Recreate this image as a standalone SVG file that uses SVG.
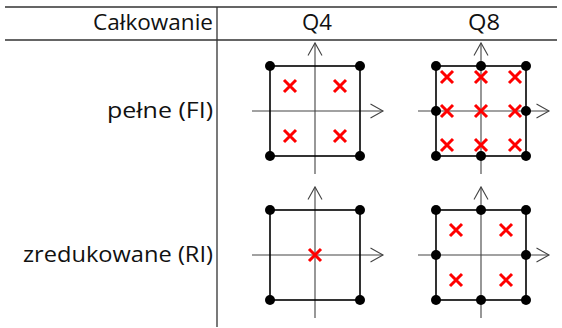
<svg xmlns="http://www.w3.org/2000/svg" width="562" height="328" viewBox="0 0 562 328">
<defs>
<style>
.rule{stroke:#333;stroke-width:1.3;fill:none}
.axis{stroke:#444;stroke-width:1.1;fill:none}
.edge{stroke:#000;stroke-width:1.6;fill:none}
.dot{fill:#000}
.gp{stroke:#ff0000;stroke-width:3;fill:none}
text{font-family:"Open Sans","DejaVu Sans",sans-serif;font-size:22.5px;fill:#111}
</style>
<g id="xh"><path class="gp" d="M-6,-6L6,6M-6,6L6,-6"/></g>
<g id="axes">
<path class="axis" d="M0,63V-68M-63,0H68"/>
<path class="axis" d="M-7,-55.5L0,-68L7,-55.5M55.5,-7L68,0L55.5,7"/>
</g>
</defs>
<g id="table">
<path class="rule" d="M5,7H557M5,40H557M217,7V327"/>
<text x="93" y="30" textLength="120" lengthAdjust="spacingAndGlyphs">Całkowanie</text>
<text x="302" y="30" textLength="30" lengthAdjust="spacingAndGlyphs">Q4</text>
<text x="468" y="30" textLength="32" lengthAdjust="spacingAndGlyphs">Q8</text>
<text x="107" y="118" textLength="106" lengthAdjust="spacingAndGlyphs">pełne (FI)</text>
<text x="23" y="262" textLength="190" lengthAdjust="spacingAndGlyphs">zredukowane (RI)</text>
</g>
<g id="q4-fi" transform="translate(315,111)">
<use href="#axes"/>
<rect class="edge" x="-45" y="-45" width="90" height="90"/>
<circle class="dot" cx="-45" cy="-45" r="5"/><circle class="dot" cx="45" cy="-45" r="5"/>
<circle class="dot" cx="-45" cy="45" r="5"/><circle class="dot" cx="45" cy="45" r="5"/>
<use href="#xh" x="-25" y="-25"/><use href="#xh" x="25" y="-25"/>
<use href="#xh" x="-25" y="25"/><use href="#xh" x="25" y="25"/>
</g>
<g id="q8-fi" transform="translate(481,111)">
<use href="#axes"/>
<rect class="edge" x="-45" y="-45" width="90" height="90"/>
<circle class="dot" cx="-45" cy="-45" r="5"/><circle class="dot" cx="0" cy="-45" r="5"/><circle class="dot" cx="45" cy="-45" r="5"/>
<circle class="dot" cx="-45" cy="0" r="5"/><circle class="dot" cx="45" cy="0" r="5"/>
<circle class="dot" cx="-45" cy="45" r="5"/><circle class="dot" cx="0" cy="45" r="5"/><circle class="dot" cx="45" cy="45" r="5"/>
<use href="#xh" x="-34" y="-34"/><use href="#xh" x="0" y="-34"/><use href="#xh" x="34" y="-34"/>
<use href="#xh" x="-34" y="0"/><use href="#xh" x="0" y="0"/><use href="#xh" x="34" y="0"/>
<use href="#xh" x="-34" y="34"/><use href="#xh" x="0" y="34"/><use href="#xh" x="34" y="34"/>
</g>
<g id="q4-ri" transform="translate(315,255)">
<use href="#axes"/>
<rect class="edge" x="-45" y="-45" width="90" height="90"/>
<circle class="dot" cx="-45" cy="-45" r="5"/><circle class="dot" cx="45" cy="-45" r="5"/>
<circle class="dot" cx="-45" cy="45" r="5"/><circle class="dot" cx="45" cy="45" r="5"/>
<use href="#xh" x="0" y="0"/>
</g>
<g id="q8-ri" transform="translate(481,255)">
<use href="#axes"/>
<rect class="edge" x="-45" y="-45" width="90" height="90"/>
<circle class="dot" cx="-45" cy="-45" r="5"/><circle class="dot" cx="0" cy="-45" r="5"/><circle class="dot" cx="45" cy="-45" r="5"/>
<circle class="dot" cx="-45" cy="0" r="5"/><circle class="dot" cx="45" cy="0" r="5"/>
<circle class="dot" cx="-45" cy="45" r="5"/><circle class="dot" cx="0" cy="45" r="5"/><circle class="dot" cx="45" cy="45" r="5"/>
<use href="#xh" x="-25" y="-25"/><use href="#xh" x="25" y="-25"/>
<use href="#xh" x="-25" y="25"/><use href="#xh" x="25" y="25"/>
</g>
</svg>
